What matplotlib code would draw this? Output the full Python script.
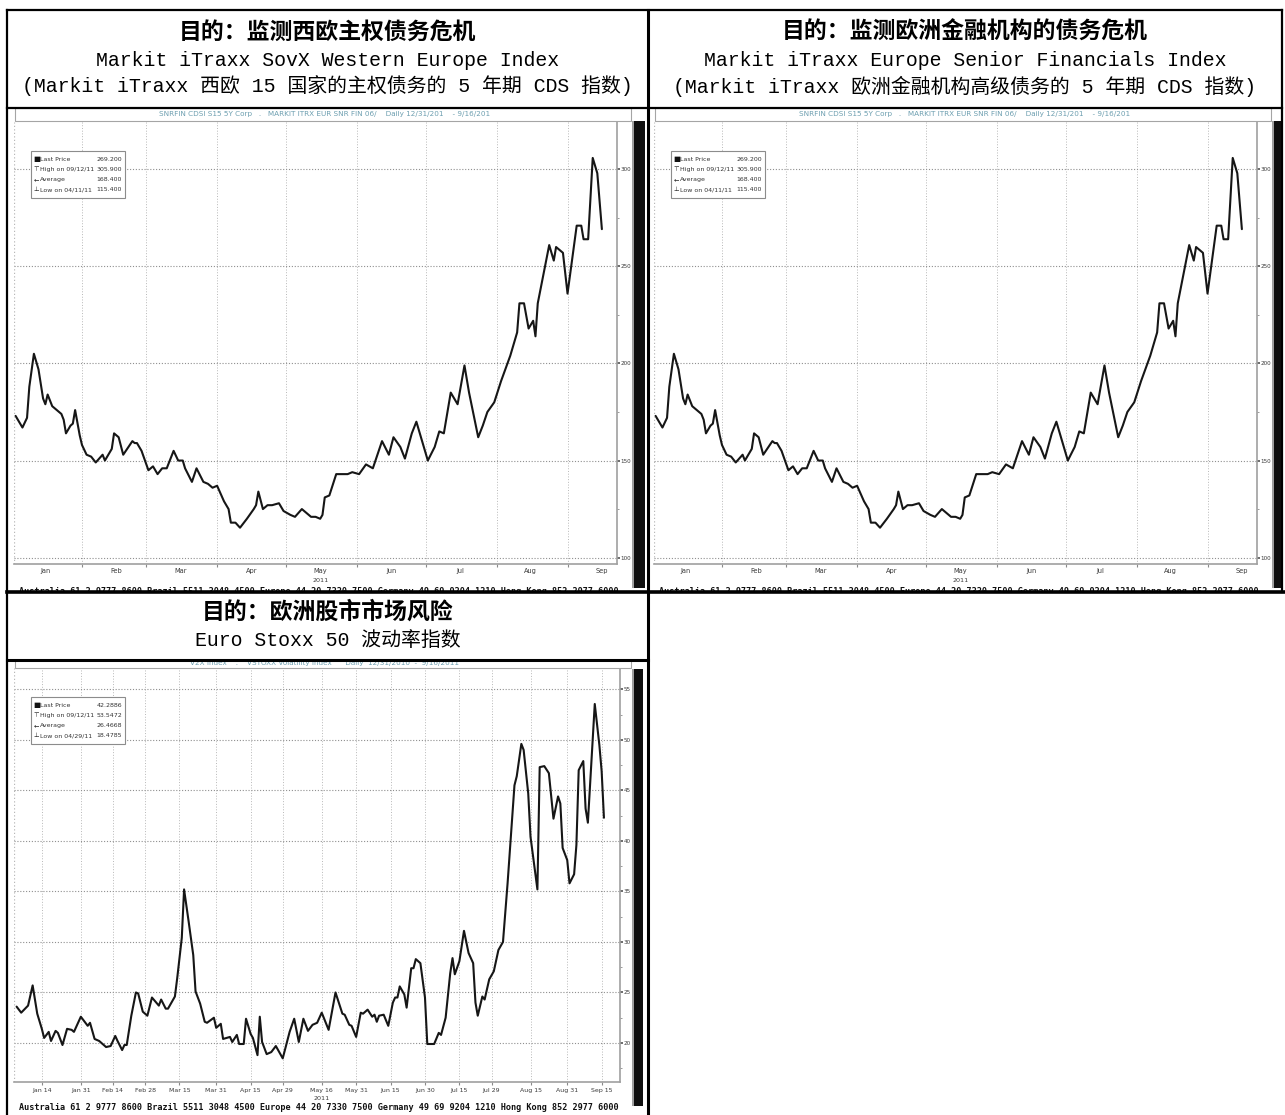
import numpy as np
import pandas as pd
import matplotlib
matplotlib.use('Agg')
import matplotlib.pyplot as plt
from matplotlib.patches import Rectangle
from matplotlib.ticker import MultipleLocator, NullFormatter

plt.rcParams['font.family'] = ['DejaVu Sans', 'Noto Sans CJK SC']
plt.rcParams['axes.unicode_minus'] = False

# ------------------------------------------------------------------ data
# days counted from 2011-01-01 (0 = Jan 1)
sovx_day = [2, 3, 5, 7, 8, 10, 12, 14, 15, 16,
            18, 19, 21, 22, 23, 24, 26, 27, 28, 30,
            31, 33, 35, 37, 40, 41, 44, 45, 47, 49,
            53, 54, 55, 57, 60, 62, 64, 66, 68, 69,
            71, 73, 75, 76, 79, 81, 84, 86, 88, 90,
            93, 95, 96, 98, 100, 103, 106, 107, 108, 110,
            112, 114, 117, 119, 122, 124, 127, 129, 131, 133,
            135, 136, 137, 139, 142, 147, 149, 152, 155, 158,
            162, 165, 167, 170, 172, 175, 177, 182, 185, 187,
            189, 192, 195, 198, 200, 204, 206, 208, 211, 214,
            218, 221, 222, 224, 226, 228, 229, 230, 235, 237,
            238, 241, 243, 247, 249, 250, 252, 254, 256, 258]
sovx_value = [173, 171, 167, 172, 188, 205, 197, 182, 179, 184,
              178, 177, 175, 174, 171, 164, 168, 169, 176, 163,
              158, 153, 152, 149, 153, 150, 156, 164, 162, 153,
              160, 159, 159, 155, 145, 147, 143, 146, 146, 149,
              155, 150, 150, 146, 139, 146, 139, 138, 136, 137,
              129, 125, 118, 118, 115.4, 120, 125, 127, 134, 125,
              127, 127, 128, 124, 122, 121, 125, 123, 121, 121,
              120, 122, 131, 132, 143, 143, 144, 143, 148, 146,
              160, 153, 162, 157, 151, 164, 170, 150, 157, 165,
              164, 185, 179, 199, 185, 162, 168, 175, 180, 191,
              204, 216, 231, 231, 218, 222, 214, 231, 261, 253,
              260, 257, 236, 271, 271, 264, 264, 305.9, 298, 269.2]

vol_day = [2, 4, 7, 9, 11, 13, 14, 16, 17, 19,
           20, 22, 24, 26, 27, 30, 33, 34, 36, 38,
           41, 43, 45, 46, 48, 49, 50, 52, 54, 55,
           57, 59, 61, 64, 65, 67, 68, 71, 72, 74,
           75, 77, 79, 80, 82, 84, 85, 88, 89, 91,
           92, 95, 96, 98, 99, 101, 102, 104, 105, 107,
           108, 109, 111, 113, 115, 118, 121, 123, 125, 127,
           129, 131, 133, 135, 138, 141, 144, 145, 147, 148,
           150, 152, 153, 155, 157, 158, 159, 160, 162, 164,
           166, 167, 168, 169, 171, 172, 174, 175, 176, 178,
           180, 181, 184, 186, 187, 189, 191, 192, 193, 195,
           197, 199, 201, 202, 203, 205, 206, 208, 210, 212,
           214, 216, 219, 220, 222, 223, 225, 226, 229, 230,
           232, 234, 236, 238, 239, 240, 242, 243, 245, 246,
           247, 249, 250, 251, 254, 256, 257, 258]
vol_value = [23.6, 23.0, 23.7, 25.7, 22.9, 21.4, 20.5, 21.1, 20.2, 21.2,
             21.0, 19.8, 21.4, 21.3, 21.1, 22.6, 21.7, 22.0, 20.4, 20.2,
             19.6, 19.7, 20.7, 20.2, 19.3, 19.8, 19.8, 22.7, 25.0, 24.9,
             23.1, 22.7, 24.5, 23.7, 24.3, 23.4, 23.4, 24.6, 26.4, 30.4,
             35.2, 32.0, 28.7, 25.1, 23.9, 22.1, 22.0, 22.5, 21.5, 21.9,
             20.4, 20.6, 20.1, 20.8, 19.9, 19.9, 22.4, 20.9, 20.5, 18.8,
             22.6, 20.1, 18.9, 19.1, 19.7, 18.48, 21.1, 22.4, 20.1, 22.4,
             21.2, 21.8, 22.0, 23.0, 21.3, 25.0, 22.9, 22.8, 21.8, 21.7,
             20.6, 23.0, 22.9, 23.3, 22.6, 22.8, 22.1, 22.7, 22.8, 21.7,
             24.0, 24.5, 24.5, 25.6, 24.8, 23.5, 27.4, 27.4, 28.3, 27.9,
             24.5, 19.9, 19.9, 21.0, 20.8, 22.5, 26.9, 28.4, 26.8, 28.1,
             31.1, 28.9, 27.9, 24.0, 22.7, 24.6, 24.3, 26.3, 27.1, 29.2,
             30.0, 35.8, 45.5, 46.4, 49.6, 49.0, 44.7, 40.4, 35.2, 47.3,
             47.4, 46.7, 42.2, 44.4, 43.7, 39.3, 38.1, 35.8, 36.7, 39.6,
             47.0, 47.9, 43.2, 41.8, 53.55, 49.5, 46.9, 42.29]

panel_titles = ['目的：监测西欧主权债务危机',
                '目的：监测欧洲金融机构的债务危机',
                '目的：欧洲股市市场风险']
panel_sub1 = ['Markit iTraxx SovX Western Europe Index',
              'Markit iTraxx Europe Senior Financials Index',
              'Euro Stoxx 50 波动率指数']
panel_sub2 = ['(Markit iTraxx 西欧 15 国家的主权债务的 5 年期 CDS 指数)',
              '(Markit iTraxx 欧洲金融机构高级债务的 5 年期 CDS 指数)']

cds_month_labels = ['Jan', 'Feb', 'Mar', 'Apr', 'May', 'Jun', 'Jul', 'Aug', 'Sep']
vol_tick_labels = ['Jan 14', 'Jan 31', 'Feb 14', 'Feb 28', 'Mar 15', 'Mar 31',
                   'Apr 15', 'Apr 29', 'May 16', 'May 31', 'Jun 15', 'Jun 30',
                   'Jul 15', 'Jul 29', 'Aug 15', 'Aug 31', 'Sep 15']
cds_yticks = [100, 150, 200, 250, 300]
vol_yticks = [20, 25, 30, 35, 40, 45, 50, 55]
year_label = '2011'

cds_legend_labels = ['Last Price', 'High on 09/12/11', 'Average', 'Low on 04/11/11']
cds_legend_values = ['269.200', '305.900', '168.400', '115.400']
vol_legend_labels = ['Last Price', 'High on 09/12/11', 'Average', 'Low on 04/29/11']
vol_legend_values = ['42.2886', '53.5472', '26.4668', '18.4785']

cds_header_text = 'SNRFIN CDSI S15 5Y Corp   .   MARKIT ITRX EUR SNR FIN 06/    Daily 12/31/201    - 9/16/201'
vol_header_text = 'V2X Index    .    VSTOXX Volatility Index      Daily  12/31/2010  -  9/16/2011'
footer_text = ('Australia 61 2 9777 8600 Brazil 5511 3048 4500 Europe 44 20 7330 7500 '
               'Germany 49 69 9204 1210 Hong Kong 852 2977 6000')

# ------------------------------------------------------------------ figure
W, H = 1285, 1115
fig = plt.figure(figsize=(W / 100, H / 100), dpi=100)
fig.patch.set_facecolor('white')

T0 = pd.Timestamp('2011-01-01')


def to_dates(days):
    return (T0 + pd.to_timedelta(np.asarray(days, dtype=float), unit='D')).to_pydatetime()


def day(d):
    return (T0 + pd.Timedelta(days=d)).to_pydatetime()


def px_axes(x0, y0, x1, y1):
    ax = fig.add_axes([x0 / W, 1 - y1 / H, (x1 - x0) / W, (y1 - y0) / H])
    ax.set_zorder(1)
    return ax


LINE_KW = dict(color='#161616', lw=1.5, solid_joinstyle='round', solid_capstyle='round')
LABEL_C = '#3a3a3a'


def base_style(ax, xlim, ylim, yticks, yminor):
    ax.set_xlim(day(xlim[0]), day(xlim[1]))
    ax.set_ylim(*ylim)
    ax.yaxis.tick_right()
    ax.set_yticks(yticks)
    ax.set_yticklabels([str(v) for v in yticks])
    ax.yaxis.set_minor_locator(MultipleLocator(yminor))
    ax.tick_params(axis='y', which='major', direction='out', length=2.0, width=1.1,
                   color='#444444', labelcolor=LABEL_C, labelsize=4.1, pad=0.6)
    ax.tick_params(axis='y', which='minor', direction='out', length=1.4, width=0.6,
                   color='#8a8a8a')
    for s in ('left', 'top'):
        ax.spines[s].set_visible(False)
    for s in ('bottom', 'right'):
        ax.spines[s].set_color('#a0a0a0')
        ax.spines[s].set_linewidth(1.2)
    ax.grid(axis='y', which='major', color='#8f8f8f', linestyle=(0, (1, 1.6)), linewidth=0.8)
    ax.grid(axis='x', which='major', color='#b8b8b8', linestyle=(0, (1, 1.8)), linewidth=0.7)
    ax.axvline(day(xlim[0]), color='#b8b8b8', linestyle=(0, (1, 1.8)), linewidth=0.9)


cds_month_starts = list(pd.date_range('2011-02-01', periods=len(cds_month_labels) - 1,
                                      freq='MS').to_pydatetime())
cds_label_pos = list(pd.to_datetime([f'{m} 16 2011' for m in cds_month_labels],
                                    format='%b %d %Y').to_pydatetime())
vol_tick_pos = list(pd.to_datetime([f'{l} 2011' for l in vol_tick_labels],
                                   format='%b %d %Y').to_pydatetime())


def cds_chart(ox):
    ax = px_axes(14 + ox, 122, 617 + ox, 564)
    ax.plot(to_dates(sovx_day), sovx_value, **LINE_KW)
    base_style(ax, (1.31, 264.6), (96.7, 324.4), cds_yticks, 25)
    ax.set_xticks(cds_month_starts)
    ax.xaxis.set_major_formatter(NullFormatter())
    ax.set_xticks(cds_label_pos, labels=cds_month_labels, minor=True)
    ax.tick_params(axis='x', which='major', direction='out', length=2, width=0.8, color='#8a8a8a')
    ax.tick_params(axis='x', which='minor', length=0, labelsize=4.8, labelcolor=LABEL_C, pad=2.6)
    return ax


cds_chart(0)
cds_chart(640)

ax3 = px_axes(14, 668, 620, 1082)
ax3.plot(to_dates(vol_day), vol_value, **LINE_KW)
base_style(ax3, (0.87, 265.0), (16.14, 57.11), vol_yticks, 2.5)
ax3.set_xticks(vol_tick_pos, labels=vol_tick_labels)
ax3.tick_params(axis='x', which='major', direction='out', length=2, width=0.8, color='#8a8a8a',
                labelsize=4.5, labelcolor=LABEL_C, pad=2)

# ------------------------------------------------------------------ overlay (pixel coords)
ov = fig.add_axes([0, 0, 1, 1])
ov.set_zorder(10)
ov.set_xlim(0, W)
ov.set_ylim(H, 0)
ov.axis('off')

LEG_SYMS = ['■', '⊤', '←', '⊥']


def legend_box(ox, top, labels, values):
    ov.add_patch(Rectangle((31 + ox, top), 94, 47, facecolor='white', edgecolor='#8c8c8c',
                           lw=0.8, zorder=1))
    for i, (lab, val) in enumerate(zip(labels, values)):
        y = top + 8.5 + i * 10
        ov.text(33.5 + ox, y, LEG_SYMS[i], ha='left', va='center',
                fontsize=5.4 if i == 0 else 4.6, color='#111111', zorder=1.5)
        ov.text(39.5 + ox, y, lab, ha='left', va='center', fontsize=4.5, color='#333333', zorder=1.5)
        ov.text(122 + ox, y, val, ha='right', va='center', fontsize=4.5, color='#333333', zorder=1.5)


def chart_decor(ox, box_top, box_bot, teal_text, teal_y, bar_top, bar_bot, bar_w,
                year_x, year_y, footer_y):
    ov.add_patch(Rectangle((15 + ox, box_top), 616, box_bot - box_top, facecolor='white',
                           edgecolor='#a5a5a5', lw=0.8, zorder=1))
    ov.text(325 + ox, teal_y, teal_text, ha='center', va='center', fontsize=5.2,
            color='#6d9fb0', zorder=1.5)
    ov.add_patch(Rectangle((632 + ox, bar_top), 2.0, bar_bot - bar_top, facecolor='#a0a0a0',
                           lw=0, zorder=1))
    ov.add_patch(Rectangle((634 + ox, bar_top), bar_w, bar_bot - bar_top, facecolor='#0f0f0f',
                           lw=0, zorder=1))
    ov.text(year_x + ox, year_y, year_label, ha='center', va='center', fontsize=4.6,
            color=LABEL_C, zorder=1.5)
    ov.text(19 + ox, footer_y, footer_text, ha='left', va='center', fontsize=6.1,
            fontweight='bold', family='DejaVu Sans Mono', color='#111111', zorder=1.5)


chart_decor(0, 108, 121, cds_header_text, 114, 121, 588, 11, 321, 580, 591.5)
chart_decor(640, 108, 121, cds_header_text, 114, 121, 588, 7, 321, 580, 591.5)
legend_box(0, 151, cds_legend_labels, cds_legend_values)
legend_box(640, 151, cds_legend_labels, cds_legend_values)

chart_decor(0, 652, 668, vol_header_text, 663.5, 669, 1106, 9, 322, 1098, 1108)
legend_box(0, 697, vol_legend_labels, vol_legend_values)

# white covers for header cell 2 and the empty lower-right cell
ov.add_patch(Rectangle((8, 591), 640, 69, facecolor='white', lw=0, zorder=2))
ov.add_patch(Rectangle((649, 591), 640, 530, facecolor='white', lw=0, zorder=2))

# table borders
BK = dict(color='black', zorder=3, solid_capstyle='projecting')
ov.plot([7, 1282], [10, 10], lw=1.6, **BK)
ov.plot([7, 7], [10, 1115], lw=1.6, **BK)
ov.plot([648, 648], [10, 1115], lw=2.2, **BK)
ov.plot([1282, 1282], [10, 592], lw=1.6, **BK)
ov.plot([7, 1282], [108, 108], lw=1.6, **BK)
ov.plot([7, 1285], [592, 592], lw=2.6, **BK)
ov.plot([7, 648], [660, 660], lw=2.2, **BK)

# header texts
TITLE_KW = dict(ha='center', va='center', fontsize=16.5, fontweight='bold',
                family=['Noto Sans CJK SC', 'DejaVu Sans'], color='black', zorder=4)
SUB_KW = dict(ha='center', va='center', fontsize=14.3,
              family=['Liberation Mono', 'Noto Sans CJK SC'], color='black', zorder=4)

ov.text(327.5, 32, panel_titles[0], **TITLE_KW)
ov.text(327.5, 60, panel_sub1[0], **SUB_KW)
ov.text(327.5, 86, panel_sub2[0], **SUB_KW)

ov.text(965, 32, panel_titles[1], **TITLE_KW)
ov.text(965, 60, panel_sub1[1], **SUB_KW)
ov.text(965, 86, panel_sub2[1], **SUB_KW)

ov.text(327.5, 612, panel_titles[2], **TITLE_KW)
ov.text(327.5, 640, panel_sub1[2], **SUB_KW)

fig.savefig('out.png', dpi=100, facecolor='white')
